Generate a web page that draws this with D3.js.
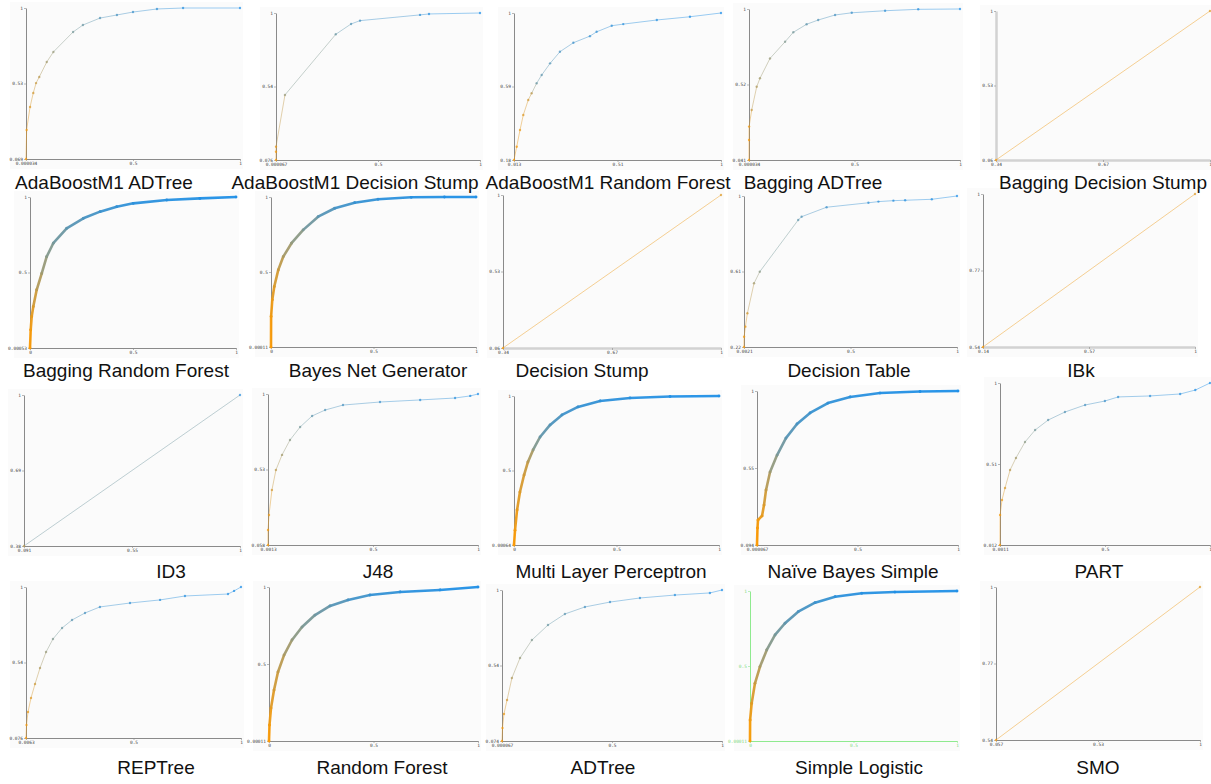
<!DOCTYPE html>
<html>
<head>
<meta charset="utf-8">
<script src="https://cdn.jsdelivr.net/npm/d3@7"></script>
<style>
  body { margin: 0; background: #fff; }
  .title { font-family: "Liberation Sans", Arial, sans-serif; font-size: 19px; fill: #111; }
  .tick text { font-family: "DejaVu Sans Mono", monospace; font-size: 4.5px; }
</style>
</head>
<body>
<svg id="chart" width="1211" height="784"></svg>
<script>
// classifier names, one per small ROC panel
const panelNames = [
  "AdaBoostM1 ADTree", "AdaBoostM1 Decision Stump", "AdaBoostM1 Random Forest", "Bagging ADTree", "Bagging Decision Stump",
  "Bagging Random Forest", "Bayes Net Generator", "Decision Stump", "Decision Table", "IBk",
  "ID3", "J48", "Multi Layer Perceptron", "Naïve Bayes Simple", "PART",
  "REPTree", "Random Forest", "ADTree", "Simple Logistic", "SMO"
];

const xTickLabels = [
  ["0.000034", "0.5", "1"], ["0.000067", "0.5", "1"], ["0.013", "0.51", "1"], ["0.000034", "0.5", "1"], ["0.34", "0.67", "1"],
  ["0", "0.5", "1"], ["0", "0.5", "1"], ["0.34", "0.67", "1"], ["0.0021", "0.5", "1"], ["0.14", "0.57", "1"],
  ["0.091", "0.55", "1"], ["0.0013", "0.5", "1"], ["0", "0.5", "1"], ["0.000067", "0.5", "1"], ["0.0011", "0.5", "1"],
  ["0.0063", "0.5", "1"], ["0", "0.5", "1"], ["0.000067", "0.5", "1"], ["0", "0.5", "1"], ["0.057", "0.53", "1"]
];

const yTickLabels = [
  ["0.069", "0.53", "1"], ["0.076", "0.54", "1"], ["0.18", "0.59", "1"], ["0.041", "0.52", "1"], ["0.06", "0.53", "1"],
  ["0.00053", "0.5", "1"], ["0.00011", "0.5", "1"], ["0.06", "0.53", "1"], ["0.22", "0.61", "1"], ["0.54", "0.77", "1"],
  ["0.38", "0.69", "1"], ["0.058", "0.53", "1"], ["0.00064", "0.5", "1"], ["0.094", "0.55", "1"], ["0.012", "0.51", "1"],
  ["0.076", "0.54", "1"], ["0.00011", "0.5", "1"], ["0.074", "0.54", "1"], ["0.00011", "0.5", "1"], ["0.54", "0.77", "1"]
];

// ROC points: [false positive rate, true positive rate, threshold]
const rocAdaBoostADTree = [[0.000034,0.069,1],[0.003,0.248,0.95],[0.019,0.39,0.85],[0.034,0.476,0.8],[0.047,0.537,0.75],[0.062,0.575,0.7],[0.097,0.667,0.6],[0.128,0.729,0.55],[0.22,0.852,0.4],[0.266,0.895,0.35],[0.346,0.938,0.25],[0.425,0.957,0.2],[0.5,0.975,0.15],[0.612,0.994,0.1],[0.734,1,0.05],[1,1,0]];
const rocAdaBoostStump = [[0.000067,0.076,1],[0.0001,0.128,0.95],[0.0002,0.16,0.9],[0.044,0.485,0.55],[0.293,0.866,0.35],[0.368,0.931,0.25],[0.412,0.952,0.2],[0.706,0.988,0.1],[0.75,0.994,0.05],[1,1,0]];
const rocAdaBoostRF = [[0.013,0.18,1],[0.0259,0.254,0.95],[0.0416,0.347,0.9],[0.0573,0.431,0.85],[0.081,0.515,0.8],[0.097,0.552,0.7],[0.121,0.608,0.35],[0.145,0.654,0.3],[0.185,0.719,0.25],[0.232,0.784,0.2],[0.296,0.834,0.15],[0.375,0.871,0.12],[0.407,0.895,0.1],[0.479,0.929,0.08],[0.534,0.938,0.06],[0.694,0.961,0.04],[0.852,0.979,0.02],[1,1,0]];
const rocBaggingADTree = [[0.000034,0.041,1],[0.0003,0.168,0.97],[0.0005,0.253,0.93],[0.0128,0.359,0.75],[0.0365,0.506,0.65],[0.052,0.56,0.6],[0.0995,0.686,0.55],[0.171,0.792,0.45],[0.21,0.852,0.4],[0.273,0.903,0.3],[0.328,0.93,0.25],[0.408,0.962,0.2],[0.487,0.976,0.15],[0.645,0.989,0.1],[0.802,0.998,0.05],[1,1,0]];
const rocBaggingStump = [[0.34,0.06,1],[1,1,0.85]];
const rocBaggingRF = [[0,0.00053,1],[0.0034,0.121,0.95],[0.0083,0.209,0.9],[0.016,0.275,0.85],[0.0325,0.386,0.72],[0.057,0.494,0.6],[0.081,0.605,0.5],[0.113,0.694,0.42],[0.178,0.793,0.3],[0.259,0.859,0.22],[0.34,0.903,0.15],[0.421,0.936,0.1],[0.501,0.958,0.07],[0.664,0.98,0.04],[0.825,0.991,0.02],[1,1,0]];
const rocBayesNet = [[0,0.00011,1],[0.0005,0.204,0.95],[0.0063,0.315,0.9],[0.016,0.403,0.85],[0.0355,0.514,0.78],[0.06,0.603,0.65],[0.1,0.692,0.55],[0.157,0.781,0.45],[0.23,0.869,0.3],[0.311,0.925,0.2],[0.408,0.962,0.12],[0.522,0.985,0.08],[0.684,0.998,0.04],[0.846,1,0.02],[1,1,0]];
const rocDecisionStump = [[0.34,0.06,1],[1,1,0.85]];
const rocDecisionTable = [[0.0021,0.22,1],[0.0025,0.273,0.95],[0.0087,0.325,0.9],[0.018,0.394,0.8],[0.049,0.549,0.6],[0.076,0.609,0.5],[0.256,0.876,0.3],[0.272,0.893,0.25],[0.389,0.942,0.15],[0.585,0.965,0.1],[0.632,0.971,0.08],[0.702,0.976,0.06],[0.757,0.978,0.05],[0.882,0.983,0.03],[1,1,0]];
const rocIBk = [[0.14,0.54,1],[1,1,0.85]];
const rocID3 = [[0.091,0.38,0.7],[1,1,0.05]];
const rocJ48 = [[0.0013,0.058,1],[0.0015,0.152,0.95],[0.006,0.245,0.9],[0.02,0.401,0.8],[0.039,0.526,0.7],[0.068,0.62,0.6],[0.106,0.713,0.5],[0.154,0.794,0.4],[0.211,0.863,0.3],[0.273,0.9,0.25],[0.358,0.931,0.2],[0.534,0.95,0.15],[0.725,0.963,0.1],[0.891,0.975,0.06],[0.963,0.988,0.03],[1,1,0]];
const rocMLP = [[0,0.00064,1],[0.005,0.1,0.95],[0.015,0.236,0.9],[0.029,0.356,0.85],[0.049,0.47,0.8],[0.068,0.558,0.72],[0.093,0.638,0.55],[0.127,0.725,0.35],[0.176,0.806,0.25],[0.234,0.873,0.18],[0.312,0.927,0.12],[0.42,0.967,0.08],[0.566,0.987,0.05],[0.761,0.997,0.02],[1,1,0]];
const rocNaiveBayes = [[0.000067,0.094,1],[0.0025,0.194,0.97],[0.005,0.241,0.95],[0.025,0.265,0.9],[0.035,0.329,0.85],[0.045,0.418,0.75],[0.065,0.523,0.6],[0.1,0.623,0.45],[0.144,0.723,0.3],[0.199,0.806,0.2],[0.264,0.871,0.14],[0.353,0.929,0.09],[0.463,0.965,0.06],[0.612,0.988,0.03],[0.811,0.997,0.01],[1,1,0]];
const rocPART = [[0.0011,0.012,1],[0.0015,0.195,0.95],[0.0106,0.286,0.9],[0.025,0.36,0.82],[0.049,0.469,0.7],[0.077,0.543,0.6],[0.12,0.64,0.5],[0.168,0.713,0.4],[0.23,0.774,0.3],[0.31,0.823,0.25],[0.406,0.866,0.2],[0.5,0.89,0.15],[0.563,0.915,0.12],[0.715,0.921,0.08],[0.858,0.933,0.05],[0.93,0.957,0.02],[1,1,0]];
const rocREPTree = [[0.0063,0.076,1],[0.0086,0.156,0.95],[0.0155,0.235,0.9],[0.0294,0.321,0.85],[0.048,0.406,0.78],[0.071,0.504,0.65],[0.099,0.602,0.55],[0.131,0.682,0.45],[0.173,0.749,0.35],[0.219,0.798,0.28],[0.279,0.841,0.2],[0.348,0.878,0.15],[0.487,0.902,0.1],[0.626,0.921,0.07],[0.741,0.945,0.05],[0.94,0.957,0.03],[0.968,0.976,0.01],[1,1,0]];
const rocRandomForest = [[0,0.00011,1],[0.0024,0.104,0.95],[0.0096,0.214,0.9],[0.024,0.331,0.82],[0.043,0.448,0.75],[0.072,0.558,0.65],[0.11,0.656,0.55],[0.158,0.74,0.45],[0.22,0.818,0.38],[0.292,0.877,0.3],[0.378,0.916,0.2],[0.483,0.948,0.12],[0.627,0.968,0.07],[0.818,0.981,0.03],[1,1,0]];
const rocADTree = [[0.000067,0.074,1],[0.0023,0.154,0.95],[0.009,0.24,0.9],[0.023,0.325,0.8],[0.045,0.46,0.65],[0.082,0.583,0.55],[0.136,0.693,0.45],[0.209,0.785,0.35],[0.286,0.853,0.28],[0.377,0.896,0.2],[0.491,0.926,0.15],[0.627,0.951,0.1],[0.786,0.969,0.06],[0.945,0.982,0.03],[1,1,0]];
const rocSimpleLogistic = [[0,0.00011,1],[0.0005,0.14,0.95],[0.008,0.251,0.88],[0.024,0.385,0.78],[0.048,0.495,0.65],[0.081,0.607,0.52],[0.121,0.707,0.42],[0.169,0.785,0.32],[0.233,0.862,0.22],[0.314,0.922,0.15],[0.411,0.962,0.08],[0.54,0.985,0.04],[0.7,0.993,0.02],[1,1,0]];
const rocSMO = [[0.057,0.54,1],[1,1,0.85]];

const curves = [
  rocAdaBoostADTree, rocAdaBoostStump, rocAdaBoostRF, rocBaggingADTree, rocBaggingStump,
  rocBaggingRF, rocBayesNet, rocDecisionStump, rocDecisionTable, rocIBk,
  rocID3, rocJ48, rocMLP, rocNaiveBayes, rocPART,
  rocREPTree, rocRandomForest, rocADTree, rocSimpleLogistic, rocSMO
];

// Layout: [axis x, axis end x, top y, bottom y], and where the caption sits
const panelBoxes = [
  [26, 240, 8, 159], [276, 480, 13, 160], [514, 721, 13, 160], [749, 960, 9, 160], [996, 1210, 11, 160],
  [30, 236, 197, 348], [271, 476, 197, 347], [503, 721, 195, 348], [744, 957, 196, 347], [983, 1195, 194, 347],
  [24, 240, 395, 546], [268, 478, 394, 545], [514, 719, 396, 545], [757, 958, 391, 545], [1000, 1210, 383, 545],
  [26, 241, 587, 738], [269, 478, 587, 741], [502, 722, 590, 741], [750, 957, 591, 741], [996, 1200, 587, 740]
];
const titleCenters = [104, 355, 608, 813, 1103, 126, 378, 582, 849, 1081, 171, 378, 611, 853, 1099, 156, 382, 603, 859, 1098];
const rowBaselines = [189, 377, 578, 774];

// dense curves are drawn heavier; a few panels have pale thick axes
const denseCurve = [false, false, false, false, false, true, true, false, false, false,
                    false, false, true, true, false, false, true, false, true, false];
const paleXAxis = [false, false, false, false, true, false, false, true, false, true,
                   false, false, false, false, false, false, false, false, false, false];
const paleYAxis = [false, false, false, false, true, false, false, false, false, false,
                   false, false, false, false, false, false, false, false, false, false];

const thresholdColor = d3.scaleLinear()
  .domain([0, 0.5, 1])
  .range(["#1e8fe8", "#8c9a86", "#ff9a00"])
  .interpolate(d3.interpolateRgb);

const svg = d3.select("#chart");
const panelLayer = svg.append("g").attr("class", "panels");
const titleLayer = svg.append("g").attr("class", "titles");

panelNames.forEach((name, p) => {
  const [x0, x1, top, bottom] = panelBoxes[p];
  const data = curves[p];
  const xMin = d3.min(data, d => d[0]);
  const yMin = d3.min(data, d => d[1]);
  const x = d3.scaleLinear().domain([xMin, 1]).range([x0, x1]);
  const y = d3.scaleLinear().domain([yMin, 1]).range([bottom, top]);

  const g = panelLayer.append("g").attr("class", "panel");

  // faint panel background
  g.append("rect")
    .attr("x", x0 - 16).attr("y", top - 6)
    .attr("width", x1 - x0 + 19).attr("height", bottom - top + 16)
    .attr("fill", "#fbfbfb");

  const axisColor = p === 18 ? "#8fea8f" : "#8a8a8a";

  const xAxis = d3.axisBottom(x)
    .tickValues([xMin, (xMin + 1) / 2, 1])
    .tickFormat((d, i) => xTickLabels[p][i])
    .tickSizeInner(2).tickSizeOuter(0).tickPadding(1);
  const yAxis = d3.axisLeft(y)
    .tickValues([yMin, (yMin + 1) / 2, 1])
    .tickFormat((d, i) => yTickLabels[p][i])
    .tickSizeInner(2).tickSizeOuter(0).tickPadding(1);

  const gx = g.append("g").attr("transform", `translate(0, ${bottom})`).call(xAxis);
  const gy = g.append("g").attr("transform", `translate(${x0}, 0)`).call(yAxis);

  [[gx, paleXAxis[p]], [gy, paleYAxis[p]]].forEach(([ax, pale]) => {
    ax.select(".domain")
      .attr("stroke", pale ? "#d2d2d2" : axisColor)
      .attr("stroke-width", pale ? 2.5 : 1);
    ax.selectAll(".tick line").attr("stroke", axisColor).attr("stroke-width", 0.6);
    ax.selectAll(".tick text").attr("fill", p === 18 ? "#7fd97f" : "#444");
  });

  // curve: one segment per pair of points, coloured by threshold
  const segments = d3.pairs(data);
  g.selectAll("line.seg")
    .data(segments)
    .join("line")
    .attr("class", "seg")
    .attr("x1", d => x(d[0][0])).attr("y1", d => y(d[0][1]))
    .attr("x2", d => x(d[1][0])).attr("y2", d => y(d[1][1]))
    .attr("stroke", d => thresholdColor((d[0][2] + d[1][2]) / 2))
    .attr("stroke-width", denseCurve[p] ? 2.6 : 1)
    .attr("stroke-opacity", denseCurve[p] ? 0.95 : 0.45)
    .attr("stroke-linecap", "round");

  g.selectAll("circle.pt")
    .data(data)
    .join("circle")
    .attr("class", "pt")
    .attr("cx", d => x(d[0])).attr("cy", d => y(d[1]))
    .attr("r", denseCurve[p] ? 1.4 : 1.2)
    .attr("fill", d => thresholdColor(d[2]))
    .attr("fill-opacity", 0.7);

  // captions go on a layer above every panel so descenders are not covered
  const row = Math.floor(p / 5);
  titleLayer.append("text")
    .attr("class", "title")
    .attr("x", titleCenters[p])
    .attr("y", rowBaselines[row])
    .attr("text-anchor", "middle")
    .text(name);
});
</script>
</body>
</html>
